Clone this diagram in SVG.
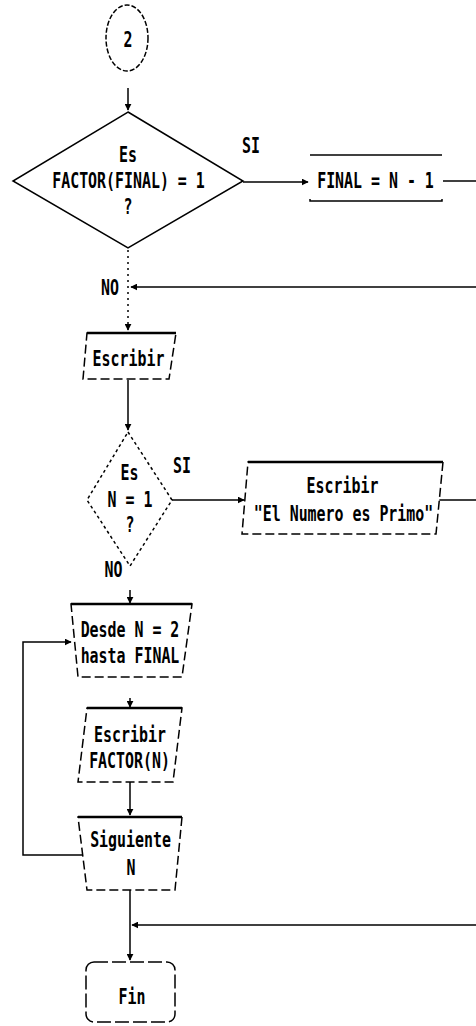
<svg xmlns="http://www.w3.org/2000/svg" width="476" height="1026" viewBox="0 0 476 1026">
<style>
text{font-family:"DejaVu Sans Mono","Liberation Mono",monospace;font-weight:bold;font-size:21px;fill:#000;text-anchor:middle}
.ln{stroke:#000;stroke-width:1.5;fill:none}
.dot{stroke:#000;stroke-width:1.5;fill:none;stroke-dasharray:2 4}
.side{stroke:#000;stroke-width:1.5;fill:#fff;stroke-dasharray:9 4}
.top{stroke:#000;stroke-width:2.6;fill:none}
</style>
<defs>
<marker id="ah" viewBox="0 0 10 10" refX="9" refY="5" markerWidth="7" markerHeight="7" orient="auto" markerUnits="userSpaceOnUse">
<path d="M0,0 L10,5 L0,10 z" fill="#000"/>
</marker>
</defs>
<rect width="476" height="1026" fill="#fff"/>
<g id="connectors">
<path class="ln" d="M128,88 V110" marker-end="url(#ah)"/>
<path class="ln" d="M243,182 H308" marker-end="url(#ah)"/>
<path class="ln" d="M443,181 H476"/>
<path class="dot" d="M128,250 V330" marker-end="url(#ah)"/>
<path class="ln" d="M476,287 H131" marker-end="url(#ah)"/>
<path class="ln" d="M128,380 V430" marker-end="url(#ah)"/>
<path class="ln" d="M172,500 H244" marker-end="url(#ah)"/>
<path class="ln" d="M438,500 H476"/>
<path class="ln" d="M130,590 V603" marker-end="url(#ah)"/>
<path class="ln" d="M130,698 V707" marker-end="url(#ah)"/>
<path class="ln" d="M130,782 V815" marker-end="url(#ah)"/>
<path class="ln" d="M130,890 V960" marker-end="url(#ah)"/>
<path class="ln" d="M476,925 H132" marker-end="url(#ah)"/>
<path class="ln" d="M82,855 H23 V642 H71" marker-end="url(#ah)"/>
</g>
<g id="n-conector2">
<ellipse cx="127" cy="38" rx="21" ry="33" fill="#fff" stroke="#000" stroke-width="1.5" stroke-dasharray="5 2"/>
<text transform="translate(128,47) scale(0.71,1)">2</text>
</g>
<g id="n-decision1">
<polygon points="128,112 243,181 128,248 13,181" fill="#fff" stroke="#000" stroke-width="1.5"/>
<text transform="translate(128,162) scale(0.71,1)">Es</text>
<text transform="translate(128.5,188) scale(0.71,1)">FACTOR(FINAL) = 1</text>
<text transform="translate(128,214) scale(0.71,1)">?</text>
</g>
<g id="lbl-si1"><text transform="translate(251,153) scale(0.71,1)">SI</text></g>
<g id="n-final">
<path class="ln" d="M310,155 H442"/>
<path class="ln" d="M310,199 V201 H442 V199"/>
<text transform="translate(375.5,188) scale(0.71,1)">FINAL = N - 1</text>
</g>
<g id="lbl-no1"><text transform="translate(110,295) scale(0.71,1)">NO</text></g>
<g id="n-escribir1">
<polygon class="side" points="87,333 176,333 169,379 83,379"/>
<path class="top" d="M87,333 H176"/>
<text transform="translate(128.5,366) scale(0.71,1)">Escribir</text>
</g>
<g id="n-decision2">
<polygon points="128,432 172,500 130,566 87,500" fill="#fff" stroke="#000" stroke-width="1.5" stroke-dasharray="3 3"/>
<text transform="translate(129.5,480) scale(0.71,1)">Es</text>
<text transform="translate(130,507) scale(0.71,1)">N = 1</text>
<text transform="translate(130,532) scale(0.71,1)">?</text>
</g>
<g id="lbl-si2"><text transform="translate(182,473) scale(0.71,1)">SI</text></g>
<g id="n-primo">
<polygon class="side" points="248,462 443,462 436,534 242,534"/>
<path class="top" d="M248,462 H443"/>
<text transform="translate(342.5,493) scale(0.71,1)">Escribir</text>
<text transform="translate(343.5,521) scale(0.71,1)">"El Numero es Primo"</text>
</g>
<g id="lbl-no2"><text transform="translate(113.5,577) scale(0.71,1)">NO</text></g>
<g id="n-desde">
<polygon class="side" points="71,604 192,604 182,677 78,677"/>
<path class="top" d="M71,604 H192"/>
<text transform="translate(130,637) scale(0.71,1)">Desde N = 2</text>
<text transform="translate(130,663) scale(0.71,1)">hasta FINAL</text>
</g>
<g id="n-escribir-factor">
<polygon class="side" points="87,708 182,708 173,782 78,782"/>
<path class="top" d="M87,708 H182"/>
<text transform="translate(130,742) scale(0.71,1)">Escribir</text>
<text transform="translate(129.5,768) scale(0.71,1)">FACTOR(N)</text>
</g>
<g id="n-siguiente">
<polygon class="side" points="78,817 182,817 175,890 87,890"/>
<path class="top" d="M78,817 H182"/>
<text transform="translate(130.5,847) scale(0.71,1)">Siguiente</text>
<text transform="translate(131,875) scale(0.71,1)">N</text>
</g>
<g id="n-fin">
<rect x="86" y="962" width="89" height="60" rx="8" fill="#fff" stroke="#000" stroke-width="1.5" stroke-dasharray="14 4"/>
<text transform="translate(132,1004) scale(0.71,1)">Fin</text>
</g>
</svg>
